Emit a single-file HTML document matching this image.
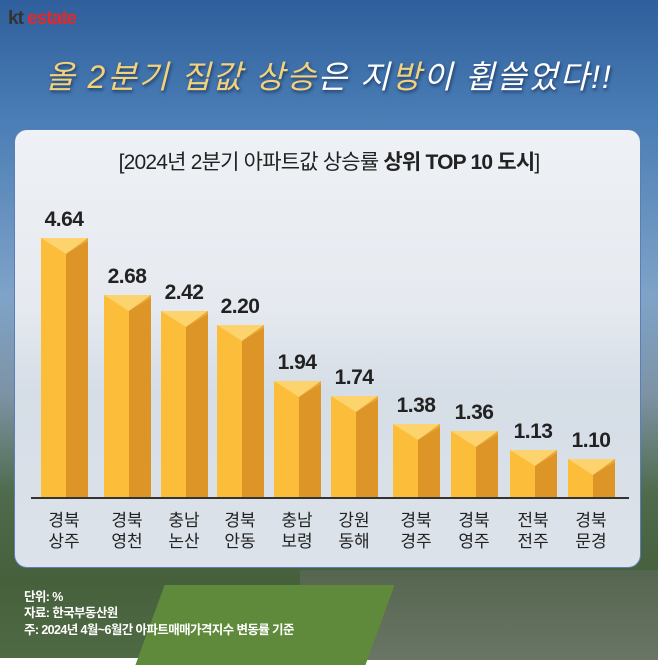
<!DOCTYPE html>
<html><head><meta charset="utf-8"><style>
body{margin:0;width:658px;height:658px;overflow:hidden;font-family:"Liberation Sans","Noto Sans CJK KR",sans-serif}
#bg{position:absolute;left:0;top:0;width:658px;height:658px;background:linear-gradient(180deg,#2f5f9c 0%,#4a7db5 18%,#7fa3c8 45%,#7d93a5 60%,#4f6b4c 75%,#46603c 88%,#4e6a44 100%)}
#field{position:absolute;left:150px;top:585px;width:230px;height:80px;background:#5f8a3c;transform:skewX(-20deg)}
#road{position:absolute;left:300px;top:570px;width:360px;height:90px;background:linear-gradient(180deg,#55664f,#6a7565)}
#panel{position:absolute;left:15px;top:130px;width:625px;height:437px;border-radius:12px;background:linear-gradient(180deg,#eef1f5 0%,#e6eaf0 40%,#d5dde6 60%,#dde3ea 100%);box-shadow:0 0 0 1px #5a7fb8}
.t{position:absolute;text-align:center;color:#222}
.bar{position:absolute;width:47px}
.bar .l{position:absolute;left:0;top:0;width:25px;bottom:0;background:#fbbd3a}
.bar .r{position:absolute;right:0;top:0;width:22px;bottom:0;background:#de9528}
.bar svg{position:absolute;left:0;top:0}
.v{position:absolute;width:80px;text-align:center;font-weight:bold;font-size:21px;color:#222;letter-spacing:-0.5px}
.lab{position:absolute;top:510px;width:60px;text-align:center;font-size:17px;line-height:21px;color:#222}
.note{position:absolute;left:24px;color:#fff;font-size:12.5px;font-weight:bold;letter-spacing:-0.6px}
</style></head><body>
<div id="bg"></div><div id="road"></div><div id="field"></div>
<div style="position:absolute;left:8px;top:8px;font-size:19px;font-weight:bold;letter-spacing:-1px"><span style="color:#333">kt</span><span style="color:#e02a2a"> estate</span></div>
<div style="position:absolute;left:0;top:52px;width:658px;text-align:center;font-size:32px;color:#f4d27a;font-style:italic;text-shadow:1px 2px 3px #1d3a63;letter-spacing:2px">올 2분기 집값 상승<span style="color:#fff">은 지</span>방<span style="color:#fff">이 휩쓸었다!!</span></div>
<div id="panel"></div>
<div class="t" style="left:0;top:146px;width:658px;font-size:21px;letter-spacing:-0.8px">[2024년 2분기 아파트값 상승률 <b>상위 TOP 10 도시</b>]</div>
<div style="position:absolute;left:31px;top:497px;width:598px;height:2px;background:#333"></div>
<div id="bars"></div>
<script>
var d=[[41,238,"4.64","경북","상주"],[104,295,"2.68","경북","영천"],[161,311,"2.42","충남","논산"],[217,325,"2.20","경북","안동"],[274,381,"1.94","충남","보령"],[331,396,"1.74","강원","동해"],[393,424,"1.38","경북","경주"],[451,431,"1.36","경북","영주"],[510,450,"1.13","전북","전주"],[568,459,"1.10","경북","문경"]];
var h="";
d.forEach(function(a){var x=a[0],y=a[1];
h+='<div class="bar" style="left:'+x+'px;top:'+y+'px;height:'+(497-y)+'px"><div class="l"></div><div class="r"></div><svg width="47" height="18"><polygon points="0,0 47,0 25,16" fill="#fdd36e"/><polygon points="25,16 47,0 47,3" fill="#e9a83a"/></svg></div>';
h+='<div class="v" style="left:'+(x-17)+'px;top:'+(y-30)+'px">'+a[2]+'</div>';
h+='<div class="lab" style="left:'+(x-7)+'px">'+a[3]+'<br>'+a[4]+'</div>';});
document.getElementById('bars').innerHTML=h;
</script>
<div class="note" style="top:586px">단위: %</div>
<div class="note" style="top:602px">자료: 한국부동산원</div>
<div class="note" style="top:619px">주: 2024년 4월~6월간 아파트매매가격지수 변동률 기준</div>
</body></html>
